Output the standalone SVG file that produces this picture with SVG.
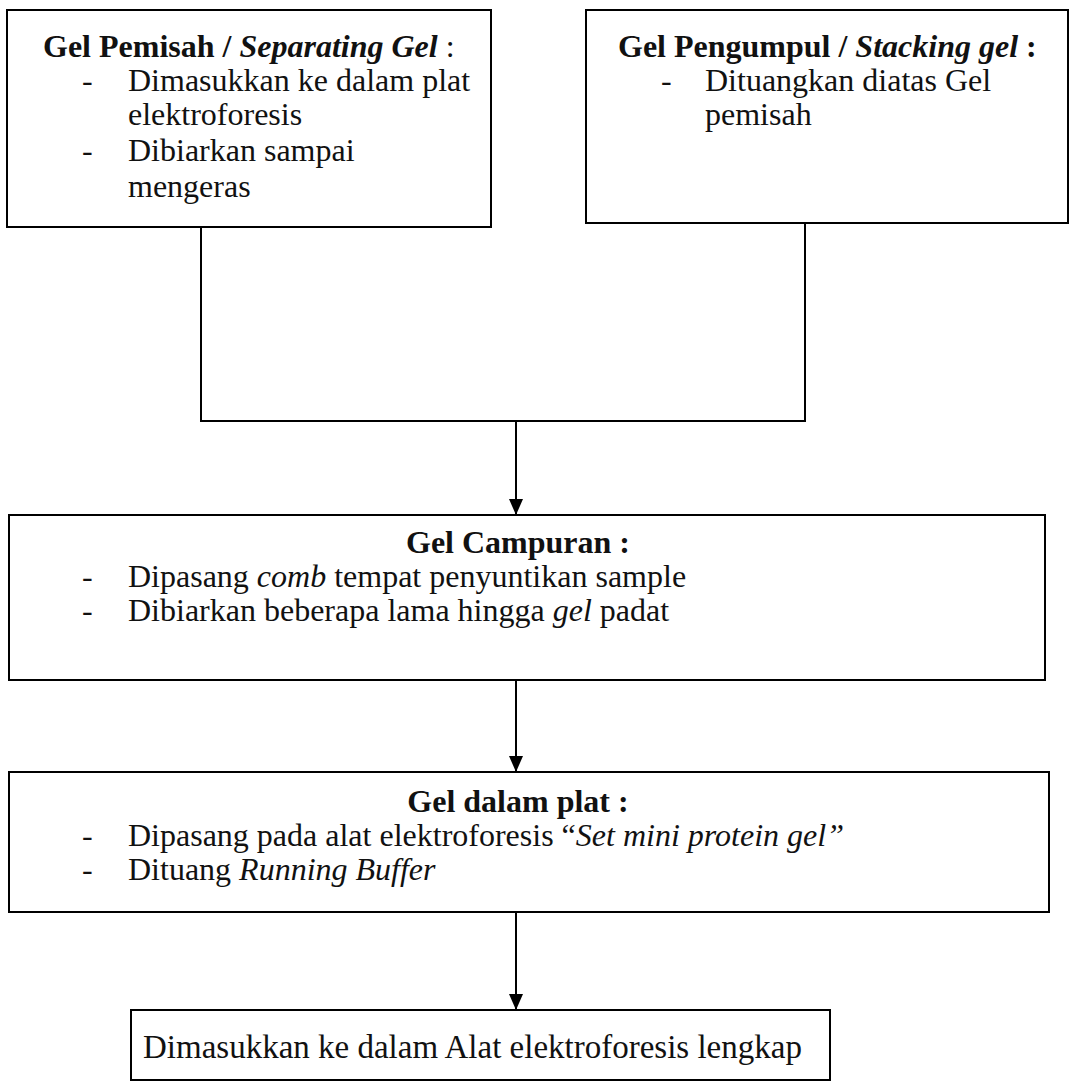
<svg xmlns="http://www.w3.org/2000/svg" width="1069" height="1083" viewBox="0 0 1069 1083">
<style>
  .box { fill: #ffffff; stroke: #000000; stroke-width: 2; }
  .t { font-family: "Liberation Serif", "Times New Roman", serif; font-size: 32px; fill: #111111; }
  .big { font-size: 33px; }
  .b { font-weight: bold; }
  .i { font-style: italic; }
  .c { text-anchor: middle; }
  .ln { fill: none; stroke: #000000; stroke-width: 2; }
</style>
<defs>
  <marker id="ah" markerUnits="userSpaceOnUse" markerWidth="16" markerHeight="14" refX="16" refY="7" orient="auto">
    <path d="M0,0 L16,7 L0,14 z" fill="#000000"/>
  </marker>
</defs>
<rect width="1069" height="1083" fill="#ffffff"/>

<g id="connectors">
  <polyline class="ln" points="201,227 201,421 805,421 805,223"/>
  <line class="ln" x1="516" y1="421" x2="516" y2="515" marker-end="url(#ah)"/>
  <line class="ln" x1="516" y1="680" x2="516" y2="772" marker-end="url(#ah)"/>
  <line class="ln" x1="516" y1="912" x2="516" y2="1010" marker-end="url(#ah)"/>
</g>

<g id="node-separating">
  <rect class="box" x="7" y="10" width="484" height="217"/>
  <text class="t b" x="43" y="57">Gel Pemisah / <tspan class="i">Separating Gel</tspan><tspan font-weight="normal"> :</tspan></text>
  <text class="t" x="82" y="91">-</text>
  <text class="t" x="128" y="91">Dimasukkan ke dalam plat</text>
  <text class="t" x="128" y="125">elektroforesis</text>
  <text class="t" x="82" y="161">-</text>
  <text class="t" x="128" y="161">Dibiarkan sampai</text>
  <text class="t" x="128" y="197">mengeras</text>
</g>

<g id="node-stacking">
  <rect class="box" x="586" y="10" width="482" height="213"/>
  <text class="t b" x="618" y="57">Gel Pengumpul / <tspan class="i">Stacking gel</tspan> :</text>
  <text class="t" x="661" y="91">-</text>
  <text class="t" x="705" y="91">Dituangkan diatas Gel</text>
  <text class="t" x="705" y="125">pemisah</text>
</g>

<g id="node-campuran">
  <rect class="box" x="9" y="515" width="1036" height="165"/>
  <text class="t b c" x="518" y="553">Gel Campuran :</text>
  <text class="t" x="82" y="587">-</text>
  <text class="t" x="128" y="587">Dipasang <tspan class="i">comb</tspan> tempat penyuntikan sample</text>
  <text class="t" x="82" y="621">-</text>
  <text class="t" x="128" y="621">Dibiarkan beberapa lama hingga <tspan class="i">gel</tspan> padat</text>
</g>

<g id="node-plat">
  <rect class="box" x="9" y="772" width="1040" height="140"/>
  <text class="t b c" x="518" y="812">Gel dalam plat :</text>
  <text class="t" x="82" y="846">-</text>
  <text class="t" x="128" y="846">Dipasang pada alat elektroforesis “<tspan class="i">Set mini protein gel”</tspan></text>
  <text class="t" x="82" y="880">-</text>
  <text class="t" x="128" y="880">Dituang <tspan class="i">Running Buffer</tspan></text>
</g>

<g id="node-final">
  <rect class="box" x="131" y="1010" width="699" height="70"/>
  <text class="t big" x="143" y="1058">Dimasukkan ke dalam Alat elektroforesis lengkap</text>
</g>
</svg>
